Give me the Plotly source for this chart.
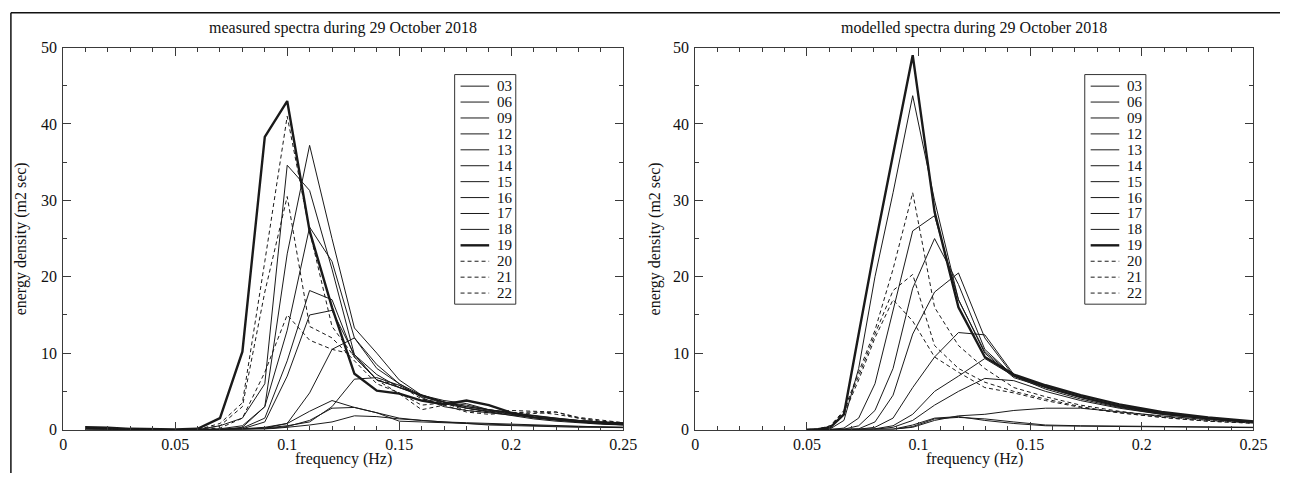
import plotly.graph_objects as go

W, H = 1294, 482

# ---------------- data ----------------
hours = ["03", "06", "09", "12", "13", "14", "15", "16", "17", "18", "19", "20", "21", "22"]

freq_measured = [0.01, 0.02, 0.03, 0.04, 0.05, 0.06, 0.07, 0.08, 0.09, 0.10, 0.11, 0.12, 0.13,
                 0.14, 0.15, 0.16, 0.17, 0.18, 0.19, 0.20, 0.21, 0.22, 0.23, 0.24, 0.25]

m03 = [0.1, 0.05, 0.02, 0, 0, 0, 0, 0, 0.05, 0.3, 0.6, 1.0, 1.8, 1.7, 1.4, 1.2, 1.0, 0.9, 0.8, 0.7, 0.6, 0.5, 0.4, 0.35, 0.3]
m06 = [0.1, 0.05, 0.02, 0, 0, 0, 0, 0, 0.1, 0.4, 1.2, 2.8, 2.9, 2.2, 1.5, 1.2, 1.0, 0.8, 0.7, 0.6, 0.5, 0.45, 0.4, 0.35, 0.3]
m09 = [0.1, 0.05, 0.02, 0, 0, 0, 0, 0.05, 0.2, 0.8, 2.4, 3.8, 2.9, 2.2, 1.1, 1.0, 0.9, 0.8, 0.6, 0.5, 0.45, 0.4, 0.3, 0.3, 0.25]
m12 = [0.1, 0.05, 0.02, 0, 0, 0, 0, 0.05, 0.2, 0.5, 1.0, 3.0, 6.6, 6.8, 5.8, 4.3, 3.6, 2.8, 2.3, 1.8, 1.4, 1.1, 0.9, 0.7, 0.6]
m13 = [0.1, 0.05, 0.02, 0, 0, 0, 0, 0.1, 0.3, 0.8, 4.8, 10.5, 12.0, 8.5, 6.0, 4.2, 3.0, 2.5, 2.2, 1.9, 1.6, 1.3, 1.0, 0.8, 0.6]
m14 = [0.1, 0.05, 0.02, 0, 0, 0, 0, 0.1, 1.0, 7.0, 15.0, 15.6, 9.8, 7.2, 5.5, 4.4, 3.4, 2.8, 2.4, 2.0, 1.6, 1.3, 1.0, 0.8, 0.7]
m15 = [0.1, 0.05, 0.02, 0, 0, 0, 0, 0.2, 1.5, 9.0, 18.2, 17.0, 9.5, 6.5, 5.5, 4.5, 3.6, 3.0, 2.5, 2.0, 1.6, 1.3, 1.0, 0.8, 0.7]
m16 = [0.1, 0.05, 0.02, 0, 0, 0, 0, 0.3, 3.0, 13.0, 26.5, 22.0, 12.0, 8.0, 6.0, 4.5, 3.6, 3.2, 2.6, 2.2, 1.8, 1.4, 1.1, 0.9, 0.7]
m17 = [0.1, 0.05, 0.02, 0, 0, 0, 0.1, 0.5, 3.0, 23.0, 37.2, 25.0, 13.3, 10.0, 6.5, 4.5, 3.6, 3.0, 2.6, 2.2, 1.8, 1.5, 1.2, 1.0, 0.8]
m18 = [0.15, 0.1, 0.05, 0, 0, 0, 0.5, 1.5, 6.0, 34.6, 31.3, 21.0, 9.8, 6.5, 5.5, 4.5, 3.8, 3.4, 2.6, 2.2, 1.9, 1.5, 1.2, 1.0, 0.9]
m19 = [0.3, 0.25, 0.1, 0.05, 0.02, 0.1, 1.5, 10.2, 38.3, 43.0, 26.0, 16.0, 7.3, 5.1, 4.7, 3.8, 3.3, 3.8, 3.2, 2.2, 1.6, 1.3, 1.1, 0.9, 0.8]
m20 = [0.2, 0.1, 0.05, 0, 0, 0, 0.8, 3.5, 22.0, 41.0, 26.0, 13.5, 9.5, 6.5, 5.8, 4.0, 3.5, 2.8, 2.4, 2.2, 2.3, 2.0, 1.5, 1.1, 0.9]
m21 = [0.2, 0.1, 0.05, 0, 0, 0, 0.5, 3.0, 18.0, 30.5, 13.5, 12.0, 9.0, 6.0, 4.8, 3.2, 3.5, 2.5, 2.2, 2.5, 2.4, 2.3, 1.6, 1.2, 0.9]
m22 = [0.15, 0.1, 0.05, 0, 0, 0, 0.2, 1.5, 7.5, 15.0, 11.7, 10.5, 9.8, 6.5, 4.7, 2.6, 3.2, 2.3, 2.0, 2.2, 2.1, 2.3, 1.5, 1.0, 0.8]

freq_modelled = [0.05, 0.055, 0.0605, 0.0666, 0.0732, 0.0805, 0.0886, 0.0974, 0.1072,
                 0.1179, 0.1297, 0.1427, 0.1569, 0.1726, 0.1899, 0.2089, 0.2297, 0.2527]

s03 = [0, 0, 0, 0, 0, 0, 0.05, 0.6, 1.5, 1.7, 1.2, 0.8, 0.5, 0.45, 0.4, 0.35, 0.3, 0.25]
s06 = [0, 0, 0, 0, 0, 0, 0.02, 0.4, 1.4, 1.6, 1.4, 1.0, 0.6, 0.5, 0.45, 0.4, 0.35, 0.3]
s09 = [0, 0, 0, 0, 0, 0, 0.05, 0.3, 1.2, 1.8, 2.0, 2.5, 2.8, 2.8, 2.3, 1.8, 1.3, 0.9]
s12 = [0, 0, 0, 0, 0, 0.05, 0.3, 1.2, 3.2, 5.0, 6.7, 6.4, 5.0, 3.8, 2.8, 2.0, 1.4, 0.9]
s13 = [0, 0, 0, 0, 0, 0.1, 0.5, 2.0, 5.0, 7.0, 9.3, 7.0, 5.3, 4.0, 2.9, 2.0, 1.4, 0.9]
s14 = [0, 0, 0, 0, 0.05, 0.3, 1.5, 5.5, 9.5, 12.7, 12.4, 7.2, 5.5, 4.2, 3.0, 2.1, 1.5, 1.0]
s15 = [0, 0, 0, 0, 0.1, 1.0, 4.5, 12.5, 18.0, 20.5, 12.0, 7.0, 5.6, 4.3, 3.1, 2.2, 1.5, 1.0]
s16 = [0, 0, 0, 0.05, 0.5, 2.5, 8.0, 18.5, 25.0, 19.0, 10.5, 7.0, 5.6, 4.3, 3.1, 2.2, 1.5, 1.0]
s17 = [0, 0, 0, 0.2, 1.5, 6.0, 15.5, 26.0, 28.0, 17.0, 10.0, 6.8, 5.5, 4.2, 3.0, 2.1, 1.5, 1.0]
s18 = [0, 0, 0.1, 1.2, 8.0, 20.0, 31.0, 43.7, 30.0, 17.0, 10.2, 7.0, 5.6, 4.3, 3.1, 2.2, 1.5, 1.0]
s19 = [0, 0.05, 0.3, 2.0, 12.5, 24.0, 36.0, 49.0, 28.5, 16.0, 9.5, 7.2, 5.8, 4.5, 3.3, 2.3, 1.6, 1.0]
s20 = [0, 0.05, 0.5, 2.5, 7.5, 13.0, 21.0, 31.0, 16.0, 11.0, 8.0, 5.5, 4.3, 3.2, 2.4, 1.7, 1.2, 0.8]
s21 = [0, 0.05, 0.5, 2.3, 7.0, 12.5, 18.2, 20.3, 11.0, 8.0, 6.2, 5.0, 4.0, 3.0, 2.2, 1.6, 1.1, 0.8]
s22 = [0, 0.05, 0.4, 2.0, 6.5, 12.0, 17.0, 14.2, 9.5, 7.5, 5.5, 4.8, 3.8, 2.9, 2.2, 1.6, 1.1, 0.8]

measured = [m03, m06, m09, m12, m13, m14, m15, m16, m17, m18, m19, m20, m21, m22]
modelled = [s03, s06, s09, s12, s13, s14, s15, s16, s17, s18, s19, s20, s21, s22]

x_ticks = [0, 0.05, 0.1, 0.15, 0.2, 0.25]
x_tick_text = ["0", "0.05", "0.1", "0.15", "0.2", "0.25"]
y_ticks = [0, 10, 20, 30, 40, 50]

# ---------------- style ----------------
FONT = "Liberation Serif"
INK = "#1a1a1a"
AX = "#3a3a3a"
TXT = "#111"


def style_for(h):
    if h == "19":
        return dict(color=INK, width=2.4, dash="solid")
    if h in ("20", "21", "22"):
        return dict(color=INK, width=1, dash="4px,3px")
    return dict(color=INK, width=1, dash="solid")


fig = go.Figure()

for h, ys in zip(hours, measured):
    fig.add_trace(go.Scatter(x=freq_measured, y=ys, mode="lines", name=h,
                             line=style_for(h), xaxis="x", yaxis="y",
                             showlegend=False, hoverinfo="skip"))
for h, ys in zip(hours, modelled):
    fig.add_trace(go.Scatter(x=freq_modelled, y=ys, mode="lines", name=h,
                             line=style_for(h), xaxis="x2", yaxis="y2",
                             showlegend=False, hoverinfo="skip"))


def px(x):
    return x / W


def py(y):
    return 1 - y / H


L1, R1 = 60, 628
L2, R2 = 701, 1267
TOP, BOT = 41, 437

axis_common = dict(
    showline=True, linecolor=AX, linewidth=1, mirror="allticks",
    ticks="inside", ticklen=8, tickcolor=AX, tickwidth=1,
    showgrid=False, zeroline=False,
    tickfont=dict(family=FONT, size=16, color=TXT),
)

xcommon = dict(axis_common, range=[0, 0.25], tickvals=x_ticks, ticktext=x_tick_text,
               ticklabelstandoff=0,
               minor=dict(ticks="inside", ticklen=4, tickcolor=AX, dtick=0.01, tick0=0, showgrid=False))
ycommon = dict(axis_common, range=[0, 50], tickvals=y_ticks, ticklabelstandoff=2,
               minor=dict(ticks="inside", ticklen=4, tickcolor=AX, dtick=5, tick0=0, showgrid=False))

fig.update_layout(
    width=W, height=H,
    margin=dict(l=0, r=0, t=0, b=0),
    paper_bgcolor="white", plot_bgcolor="white",
    font=dict(family=FONT, color=TXT),
    showlegend=False,
    xaxis=dict(xcommon, domain=[px(L1), px(R1)], anchor="y"),
    yaxis=dict(ycommon, domain=[py(BOT), py(TOP)], anchor="x"),
    xaxis2=dict(xcommon, domain=[px(L2), px(R2)], anchor="y2"),
    yaxis2=dict(ycommon, domain=[py(BOT), py(TOP)], anchor="x2"),
)

annots = [
    dict(text="measured spectra during 29 October 2018", x=px((L1 + R1) / 2), y=py(21), size=16),
    dict(text="modelled spectra during 29 October 2018", x=px((L2 + R2) / 2), y=py(21), size=16),
    dict(text="frequency (Hz)", x=px((L1 + R1) / 2), y=py(467), size=16),
    dict(text="frequency (Hz)", x=px((L2 + R2) / 2), y=py(467), size=16),
    dict(text="energy density (m2 sec)", x=px(17), y=py((TOP + BOT) / 2), angle=-90, size=16),
    dict(text="energy density (m2 sec)", x=px(660), y=py((TOP + BOT) / 2), angle=-90, size=16),
]
for a in annots:
    fig.add_annotation(text=a["text"], x=a["x"], y=a["y"], xref="paper", yref="paper",
                       showarrow=False, xanchor="center", yanchor="middle",
                       textangle=a.get("angle", 0),
                       font=dict(family=FONT, size=a["size"], color=TXT))

# ---------------- hand-built legends (one per panel) ----------------
LEG_TOP, LEG_BOT = 69, 307
ROW0, ROW_STEP = 81, 16.5
for box_left in (457, 1096):
    box_right = box_left + 62
    fig.add_shape(type="rect", xref="paper", yref="paper",
                  x0=px(box_left), x1=px(box_right), y0=py(LEG_BOT), y1=py(LEG_TOP),
                  line=dict(color="#333", width=1), fillcolor="rgba(0,0,0,0)")
    for i, h in enumerate(hours):
        yy = ROW0 + i * ROW_STEP
        st = style_for(h)
        fig.add_shape(type="line", xref="paper", yref="paper",
                      x0=px(box_left + 6), x1=px(box_left + 35), y0=py(yy), y1=py(yy),
                      line=dict(color=st["color"], width=st["width"], dash=st["dash"]))
        fig.add_annotation(text=h, x=px(box_left + 41), y=py(yy), xref="paper", yref="paper",
                           showarrow=False, xanchor="left", yanchor="middle",
                           font=dict(family=FONT, size=15, color=TXT))

# outer frame (top and left edges of the image border)
fig.add_shape(type="line", xref="paper", yref="paper", x0=px(7), x1=1, y0=py(5), y1=py(5),
              line=dict(color="#111", width=1.5))
fig.add_shape(type="line", xref="paper", yref="paper", x0=px(7), x1=px(7), y0=py(5), y1=0,
              line=dict(color="#111", width=1.5))

fig.write_html("out.html")
